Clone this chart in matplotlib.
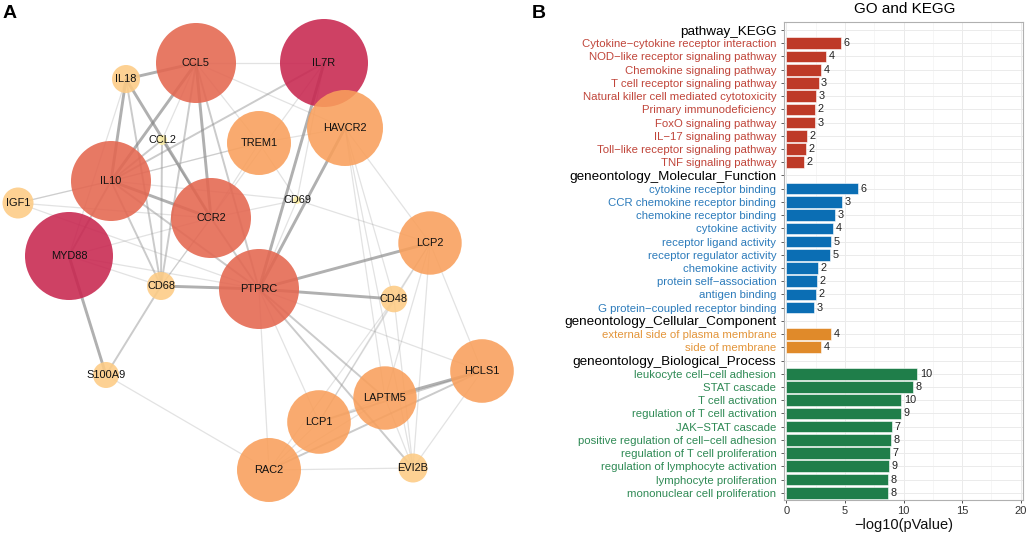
import matplotlib
matplotlib.use("Agg")
import matplotlib.pyplot as plt
from matplotlib.patches import Circle
from matplotlib.collections import LineCollection
import numpy as np

plt.rcParams['font.family'] = ['Liberation Sans', 'DejaVu Sans']

# ---------------- Panel A: network data ----------------
node_names = ["CCL5", "IL7R", "IL18", "HAVCR2", "TREM1", "CCL2", "IL10", "IGF1",
              "CCR2", "CD69", "LCP2", "MYD88", "PTPRC", "CD68", "CD48", "S100A9",
              "HCLS1", "LAPTM5", "LCP1", "RAC2", "EVI2B"]
node_x = [196, 324, 126, 345, 259, 162, 111, 18, 211, 297, 430, 69, 259, 161, 394, 106,
          482, 385, 319, 269, 413]
node_y = [63, 63, 79, 128, 143, 140, 181, 203, 218, 200, 243, 256, 289, 286, 299, 375,
          371, 398, 422, 470, 468]
node_r = [40, 44, 14, 38, 32, 5, 40, 15.5, 40, 4, 31.7, 44, 40, 14, 13.3, 13,
          31.8, 31.7, 31.8, 32, 14.5]
node_level = [3, 4, 1, 2, 2, 0, 3, 1, 3, 0, 2, 4, 3, 1, 1, 1, 2, 2, 2, 2, 1]
level_colors = ["#FFF1A8", "#FDCB84", "#F99F5B", "#E4664F", "#C8264F"]

edge_src = ["IL18", "IL18", "IL18", "IL18", "CCL5", "CCL5", "CCL5", "CCL5", "CCL5", "CCL5",
            "CCL5", "IL7R", "IL7R", "IL7R", "HAVCR2", "HAVCR2", "HAVCR2", "HAVCR2",
            "IL10", "IL10", "IL10", "IL10", "IL10", "IL10", "IL10", "MYD88", "MYD88",
            "MYD88", "CD68", "CD68", "PTPRC", "PTPRC", "PTPRC", "PTPRC", "PTPRC", "PTPRC",
            "PTPRC", "LAPTM5", "LAPTM5", "LCP1", "RAC2", "RAC2", "RAC2", "RAC2", "RAC2",
            "LCP2", "LCP2", "LCP2", "LCP2", "LCP2", "CD48", "CD48", "CD48", "HCLS1",
            "LAPTM5", "CD69", "CD69", "CD69", "CD69", "CCL2", "CCL2", "CCL2", "IGF1",
            "IGF1", "IGF1", "TREM1", "TREM1", "CCR2", "CCR2", "IL18", "MYD88", "TREM1",
            "CCL5", "IL7R", "HAVCR2", "CD68"]
edge_dst = ["CCL5", "IL10", "CCR2", "CD68", "IL10", "CCR2", "PTPRC", "IL7R", "TREM1",
            "HAVCR2", "CD68", "IL10", "PTPRC", "CCR2", "PTPRC", "LCP2", "EVI2B", "CD48",
            "CCR2", "MYD88", "CD68", "IGF1", "TREM1", "PTPRC", "CD69", "S100A9", "CCR2",
            "PTPRC", "S100A9", "PTPRC", "LCP2", "CD48", "LAPTM5", "EVI2B", "LCP1", "RAC2",
            "HCLS1", "HCLS1", "EVI2B", "HCLS1", "HCLS1", "LAPTM5", "LCP1", "EVI2B",
            "S100A9", "CD48", "HCLS1", "EVI2B", "LAPTM5", "LCP1", "EVI2B", "LCP1", "RAC2",
            "EVI2B", "LCP1", "LCP2", "CCR2", "TREM1", "PTPRC", "IL10", "CCR2", "CD68",
            "IL10", "CCR2", "PTPRC", "IL10", "CCR2", "PTPRC", "CD68", "MYD88", "CD68",
            "HAVCR2", "CCL2", "CD69", "LAPTM5", "CCR2"]
edge_w = [3, 3, 3, 2, 3, 3, 2, 1, 1, 1, 2, 2, 3, 1, 3, 1, 1, 1,
          3, 2, 2, 1, 1, 2, 1, 3, 1,
          1, 2, 3, 3, 3, 2, 2, 1, 1,
          1, 3, 1, 2, 2, 1, 1, 1, 1,
          1, 1, 1, 1, 1, 1, 1, 1, 1,
          1, 1, 1, 1, 1, 2, 2, 2, 1,
          1, 1, 1, 1, 2, 1, 1, 1, 1,
          1, 1, 1, 1]

# ---------------- Panel B: enrichment data ----------------
kegg_terms = ["Cytokine\u2212cytokine receptor interaction", "NOD\u2212like receptor signaling pathway",
              "Chemokine signaling pathway", "T cell receptor signaling pathway",
              "Natural killer cell mediated cytotoxicity", "Primary immunodeficiency",
              "FoxO signaling pathway", "IL\u221217 signaling pathway",
              "Toll\u2212like receptor signaling pathway", "TNF signaling pathway"]
kegg_p = [4.65, 3.40, 2.98, 2.75, 2.53, 2.44, 2.42, 1.73, 1.65, 1.53]
kegg_n = [6, 4, 4, 3, 3, 2, 3, 2, 2, 2]

mf_terms = ["cytokine receptor binding", "CCR chemokine receptor binding",
            "chemokine receptor binding", "cytokine activity", "receptor ligand activity",
            "receptor regulator activity", "chemokine activity", "protein self\u2212association",
            "antigen binding", "G protein\u2212coupled receptor binding"]
mf_p = [6.12, 4.75, 4.19, 4.02, 3.85, 3.73, 2.71, 2.62, 2.57, 2.40]
mf_n = [6, 3, 3, 4, 5, 5, 2, 2, 2, 3]

cc_terms = ["external side of plasma membrane", "side of membrane"]
cc_p = [3.85, 2.96]
cc_n = [4, 4]

bp_terms = ["leukocyte cell\u2212cell adhesion", "STAT cascade", "T cell activation",
            "regulation of T cell activation", "JAK\u2212STAT cascade",
            "positive regulation of cell\u2212cell adhesion", "regulation of T cell proliferation",
            "regulation of lymphocyte activation", "lymphocyte proliferation",
            "mononuclear cell proliferation"]
bp_p = [11.17, 10.79, 9.81, 9.78, 9.05, 8.90, 8.82, 8.73, 8.70, 8.68]
bp_n = [10, 8, 10, 9, 7, 8, 7, 9, 8, 8]

group_names = ["pathway_KEGG", "geneontology_Molecular_Function",
               "geneontology_Cellular_Component", "geneontology_Biological_Process"]
bar_colors = ["#BE3A28", "#0B6EB4", "#E08A2A", "#1F7E4A"]
text_colors = ["#C0453A", "#2C7BBB", "#E3953A", "#2F8A55"]

# ---------------- Figure ----------------
fig = plt.figure(figsize=(10.29, 5.35), dpi=100)

# Panel A
axA = fig.add_axes([0, 0, 520 / 1029, 1])
axA.set_xlim(0, 520)
axA.set_ylim(535, 0)
axA.axis("off")
idx = {n: i for i, n in enumerate(node_names)}
segs, lws, cols = [], [], []
style = {1: (0.9, (0.6, 0.6, 0.6, 0.28)),
         2: (1.4, (0.55, 0.55, 0.55, 0.45)),
         3: (2.1, (0.5, 0.5, 0.5, 0.62))}
for s, d, w in zip(edge_src, edge_dst, edge_w):
    i, j = idx[s], idx[d]
    segs.append([(node_x[i], node_y[i]), (node_x[j], node_y[j])])
    lw, c = style[w]
    lws.append(lw)
    cols.append(c)
axA.add_collection(LineCollection(segs, linewidths=lws, colors=cols, zorder=1))
for n, x, y, r, lv in zip(node_names, node_x, node_y, node_r, node_level):
    axA.add_patch(Circle((x, y), r, facecolor=level_colors[lv], edgecolor="none",
                         alpha=0.88, zorder=2))
    axA.text(x, y, n, ha="center", va="center", fontsize=7.9, color="#111111", zorder=3)

fig.text(3 / 1029, 1 - 14 / 535, "A", fontsize=14, fontweight="bold", va="center", ha="left")
fig.text(532 / 1029, 1 - 14 / 535, "B", fontsize=14, fontweight="bold", va="center", ha="left")

# Panel B
axB = fig.add_axes([784 / 1029, 35 / 535, 239 / 1029, 478.3 / 535])
groups = [(kegg_terms, kegg_p, kegg_n), (mf_terms, mf_p, mf_n),
          (cc_terms, cc_p, cc_n), (bp_terms, bp_p, bp_n)]
labels, lab_colors, lab_sizes = [], [], []
row = 0
for g, (terms, pv, nv) in enumerate(groups):
    labels.append(group_names[g])
    lab_colors.append("black")
    lab_sizes.append(9.7)
    row += 1
    ys = np.arange(row, row + len(terms))
    axB.barh(ys, pv, height=0.88, color=bar_colors[g], edgecolor="white",
             linewidth=0.4, zorder=3)
    for yv, p, n in zip(ys, pv, nv):
        axB.annotate(str(n), (p, yv), xytext=(1.8, 0), textcoords="offset points",
                     va="center", ha="left", fontsize=7.8, color="#222222", zorder=4)
    for t in terms:
        labels.append(t)
        lab_colors.append(text_colors[g])
        lab_sizes.append(8.2)
    row += len(terms)

nrows = len(labels)
axB.set_ylim(nrows - 1 + 0.55, -0.63)
axB.set_xlim(-0.2, 20.2)
axB.set_yticks(np.arange(nrows))
axB.set_yticklabels(labels)
for tl, c, s in zip(axB.get_yticklabels(), lab_colors, lab_sizes):
    tl.set_color(c)
    tl.set_fontsize(s)
axB.set_xticks([0, 5, 10, 15, 20])
axB.set_xticks([2.5, 7.5, 12.5, 17.5], minor=True)
axB.tick_params(axis="x", which="major", labelsize=8, colors="#333333", length=2.5,
                width=0.6, pad=2)
axB.tick_params(axis="x", which="minor", length=0)
axB.tick_params(axis="y", length=2.5, width=0.6, pad=3, color="#444444")
axB.grid(True, which="major", color="#EBEBEB", linewidth=0.7, zorder=0)
axB.grid(True, which="minor", axis="x", color="#F3F3F3", linewidth=0.5, zorder=0)
axB.set_axisbelow(True)
for sp in axB.spines.values():
    sp.set_color("#B0B0B0")
    sp.set_linewidth(0.8)
axB.set_xlabel("\u2212log10(pValue)", fontsize=10.5, labelpad=1, color="#111111")
fig.text(905 / 1029, 1 - 9 / 535, "GO and KEGG", fontsize=11, ha="center", va="center")

fig.savefig("out.png", dpi=100)
